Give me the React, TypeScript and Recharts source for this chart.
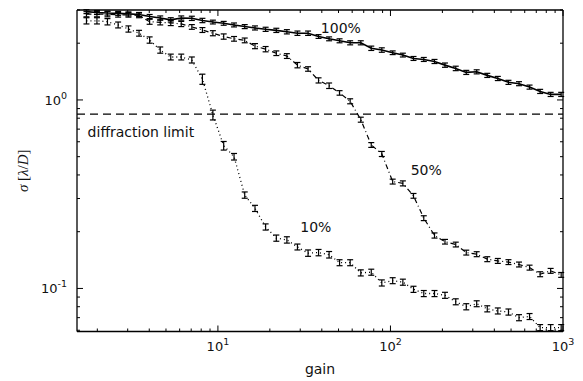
import {
  LineChart,
  Line,
  XAxis,
  YAxis,
  ErrorBar,
  ReferenceLine,
  ReferenceDot,
} from "recharts";

// loop gain (log spaced)
const gain = [
  1.73, 1.99, 2.29, 2.64, 3.03, 3.49, 4.02, 4.63, 5.33, 6.13, 7.06, 8.13,
  9.35, 10.8, 12.4, 14.3, 16.4, 18.9, 21.8, 25.1, 28.9, 33.3, 38.3, 44.1,
  50.7, 58.4, 67.3, 77.4, 89.1, 103, 118, 136, 156, 180, 207, 239, 275, 316,
  364, 419, 483, 556, 640, 737, 848, 976,
];

// sigma [lambda/D] for 10%, 50%, 100%
const sigma10 = [
  2.63, 2.63, 2.6, 2.5, 2.38, 2.26, 2.08, 1.84, 1.69, 1.69, 1.63, 1.29, 0.833,
  0.572, 0.5, 0.313, 0.266, 0.212, 0.185, 0.181, 0.166, 0.154, 0.155, 0.151,
  0.137, 0.137, 0.121, 0.122, 0.107, 0.11, 0.108, 0.099, 0.094, 0.094, 0.092,
  0.085, 0.08, 0.083, 0.078, 0.076, 0.075, 0.07, 0.071, 0.062, 0.062, 0.062,
];
const err10 = [
  0.1, 0.1, 0.1, 0.09, 0.09, 0.08, 0.08, 0.07, 0.06, 0.06, 0.06, 0.08, 0.05,
  0.03, 0.02, 0.012, 0.01, 0.008, 0.007, 0.007, 0.006, 0.006, 0.006, 0.006,
  0.005, 0.005, 0.0045, 0.0045, 0.004, 0.004, 0.004, 0.0037, 0.0035, 0.0035,
  0.0034, 0.0031, 0.003, 0.003, 0.0029, 0.0028, 0.0028, 0.0026, 0.0026,
  0.0023, 0.0023, 0.0023,
];

const sigma50 = [
  2.85, 2.85, 2.85, 2.83, 2.83, 2.81, 2.6, 2.58, 2.56, 2.53, 2.44, 2.35, 2.26,
  2.17, 2.11, 2.07, 1.93, 1.86, 1.77, 1.71, 1.53, 1.46, 1.27, 1.19, 1.09,
  0.984, 0.786, 0.577, 0.517, 0.369, 0.361, 0.31, 0.236, 0.191, 0.177, 0.171,
  0.155, 0.152, 0.143, 0.14, 0.138, 0.134, 0.129, 0.119, 0.124, 0.118,
];
const err50 = [
  0.09, 0.09, 0.09, 0.08, 0.08, 0.08, 0.08, 0.08, 0.08, 0.08, 0.07, 0.07, 0.07,
  0.07, 0.06, 0.06, 0.06, 0.06, 0.05, 0.05, 0.05, 0.04, 0.04, 0.04, 0.03, 0.03,
  0.024, 0.017, 0.016, 0.011, 0.011, 0.009, 0.007, 0.006, 0.005, 0.005,
  0.0046, 0.0046, 0.0043, 0.0042, 0.0041, 0.004, 0.0039, 0.0036, 0.0037,
  0.0035,
];

const sigma100 = [
  2.94, 2.91, 2.89, 2.88, 2.86, 2.84, 2.77, 2.72, 2.66, 2.72, 2.71, 2.64, 2.59,
  2.55, 2.5, 2.45, 2.41, 2.37, 2.34, 2.3, 2.26, 2.26, 2.17, 2.11, 2.06, 2.01,
  2.01, 1.88, 1.84, 1.78, 1.73, 1.66, 1.64, 1.6, 1.53, 1.47, 1.4, 1.41, 1.35,
  1.3, 1.24, 1.22, 1.17, 1.11, 1.07, 1.07,
];
const err100 = [
  0.07, 0.07, 0.07, 0.07, 0.07, 0.07, 0.07, 0.07, 0.07, 0.07, 0.07, 0.07, 0.06,
  0.06, 0.06, 0.06, 0.06, 0.06, 0.06, 0.06, 0.06, 0.06, 0.05, 0.05, 0.05, 0.05,
  0.05, 0.05, 0.05, 0.04, 0.04, 0.04, 0.04, 0.04, 0.04, 0.04, 0.035, 0.035,
  0.034, 0.033, 0.031, 0.03, 0.029, 0.028, 0.027, 0.027,
];

const diffractionLimit = 0.84;

const xTicks = [
  2, 3, 4, 5, 6, 7, 8, 9, 10, 20, 30, 40, 50, 60, 70, 80, 90, 100, 200, 300,
  400, 500, 600, 700, 800, 900, 1000,
];
const yTicks = [
  0.06, 0.07, 0.08, 0.09, 0.1, 0.2, 0.3, 0.4, 0.5, 0.6, 0.7, 0.8, 0.9, 1, 2, 3,
];

const data = gain.map((g, i) => ({
  g,
  s10: sigma10[i],
  e10: err10[i],
  s50: sigma50[i],
  e50: err50[i],
  s100: sigma100[i],
  e100: err100[i],
}));

const INK = "#000";
const TEXT = "#111";
const SANS = "DejaVu Sans, sans-serif";

const expOf = (v: number) => Math.round(Math.log10(v));
const isMajor = (v: number) => Math.abs(Math.log10(v) - expOf(v)) < 1e-6;

function BottomTick({ x, y, payload }: any) {
  const v = payload.value;
  const major = isMajor(v);
  return (
    <g>
      <line x1={x} x2={x} y1={y} y2={y - (major ? 6 : 3)} stroke={INK} />
      {major && (
        <text x={x} y={y + 19.5} textAnchor="middle" fontSize={13} fontFamily={SANS} fill={TEXT}>
          10
          <tspan dy={-6} fontSize={9.5}>
            {expOf(v)}
          </tspan>
        </text>
      )}
    </g>
  );
}

function TopTick({ x, y, payload }: any) {
  const major = isMajor(payload.value);
  return <line x1={x} x2={x} y1={y} y2={y + (major ? 6 : 3)} stroke={INK} />;
}

function LeftTick({ x, y, payload }: any) {
  const v = payload.value;
  const major = isMajor(v);
  return (
    <g>
      <line x1={x} x2={x + (major ? 6 : 3)} y1={y} y2={y} stroke={INK} />
      {major && (
        <text x={x - 10} y={y + 5} textAnchor="end" fontSize={13} fontFamily={SANS} fill={TEXT}>
          10
          <tspan dy={-6} fontSize={9.5}>
            {expOf(v)}
          </tspan>
        </text>
      )}
    </g>
  );
}

function RightTick({ x, y, payload }: any) {
  const major = isMajor(payload.value);
  return <line x1={x} x2={x - (major ? 6 : 3)} y1={y} y2={y} stroke={INK} />;
}

const note = (txt: string) => (p: any) => (
  <text x={p.cx} y={p.cy} dominantBaseline="central" fontSize={14} fontFamily={SANS} fill={TEXT}>
    {txt}
  </text>
);

const axisLine = { stroke: INK, strokeWidth: 1.3 };

export default function App() {
  const xDomain = [1.525, 1000];
  const yDomain = [0.0591, 3.0];
  return (
    <div style={{ position: "absolute", left: 0, top: 0 }}>
      <LineChart width={583} height={381} data={data} margin={{ top: 0, right: 0, bottom: 0, left: 0 }}>
        <XAxis
          dataKey="g"
          type="number"
          scale="log"
          domain={xDomain}
          allowDataOverflow
          ticks={xTicks}
          interval={0}
          tickLine={false}
          tickSize={0}
          tickMargin={0}
          tick={<BottomTick />}
          axisLine={axisLine}
          height={49.5}
          label={{
            content: (p: any) => (
              <text
                x={p.viewBox.x + p.viewBox.width / 2}
                y={p.viewBox.y + 42}
                textAnchor="middle"
                fontSize={14}
                fontFamily={SANS}
                fill={TEXT}
              >
                gain
              </text>
            ),
          }}
        />
        <XAxis
          xAxisId="top"
          orientation="top"
          dataKey="g"
          type="number"
          scale="log"
          domain={xDomain}
          allowDataOverflow
          ticks={xTicks}
          interval={0}
          tickLine={false}
          tickSize={0}
          tickMargin={0}
          tick={<TopTick />}
          axisLine={axisLine}
          height={10}
        />
        <YAxis
          type="number"
          scale="log"
          domain={yDomain}
          allowDataOverflow
          ticks={yTicks}
          interval={0}
          tickLine={false}
          tickSize={0}
          tickMargin={0}
          tick={<LeftTick />}
          axisLine={axisLine}
          width={77}
          label={{
            content: (p: any) => {
              const cx = 23;
              const cy = p.viewBox.y + p.viewBox.height / 2;
              return (
                <text
                  x={cx}
                  y={cy}
                  transform={`rotate(-90 ${cx} ${cy})`}
                  textAnchor="middle"
                  dominantBaseline="central"
                  fontSize={15}
                  fontFamily="Liberation Serif, serif"
                  fill={TEXT}
                >
                  <tspan fontStyle="italic">σ</tspan> [<tspan fontStyle="italic">λ</tspan>/
                  <tspan fontStyle="italic">D</tspan>]
                </text>
              );
            },
          }}
        />
        <YAxis
          yAxisId="right"
          orientation="right"
          type="number"
          scale="log"
          domain={yDomain}
          allowDataOverflow
          ticks={yTicks}
          interval={0}
          tickLine={false}
          tickSize={0}
          tickMargin={0}
          tick={<RightTick />}
          axisLine={axisLine}
          width={20}
        />
        <ReferenceLine y={diffractionLimit} stroke={INK} strokeWidth={1.3} strokeDasharray="8 5" />
        <Line
          dataKey="s10"
          type="linear"
          stroke={INK}
          strokeWidth={1.3}
          strokeDasharray="1 3"
          dot={false}
          isAnimationActive={false}
        >
          <ErrorBar dataKey="e10" width={3} stroke={INK} strokeWidth={1.2} direction="y" />
        </Line>
        <Line
          dataKey="s50"
          type="linear"
          stroke={INK}
          strokeWidth={1.2}
          strokeDasharray="5 3 1 3"
          dot={false}
          isAnimationActive={false}
        >
          <ErrorBar dataKey="e50" width={3} stroke={INK} strokeWidth={1.2} direction="y" />
        </Line>
        <Line
          dataKey="s100"
          type="linear"
          stroke={INK}
          strokeWidth={1.6}
          dot={false}
          isAnimationActive={false}
        >
          <ErrorBar dataKey="e100" width={3} stroke={INK} strokeWidth={1.2} direction="y" />
        </Line>
        <ReferenceDot x={39.5} y={2.42} r={0} shape={note("100%")} />
        <ReferenceDot x={131} y={0.425} r={0} shape={note("50%")} />
        <ReferenceDot x={30} y={0.212} r={0} shape={note("10%")} />
        <ReferenceDot x={1.757} y={0.676} r={0} shape={note("diffraction limit")} />
      </LineChart>
    </div>
  );
}
